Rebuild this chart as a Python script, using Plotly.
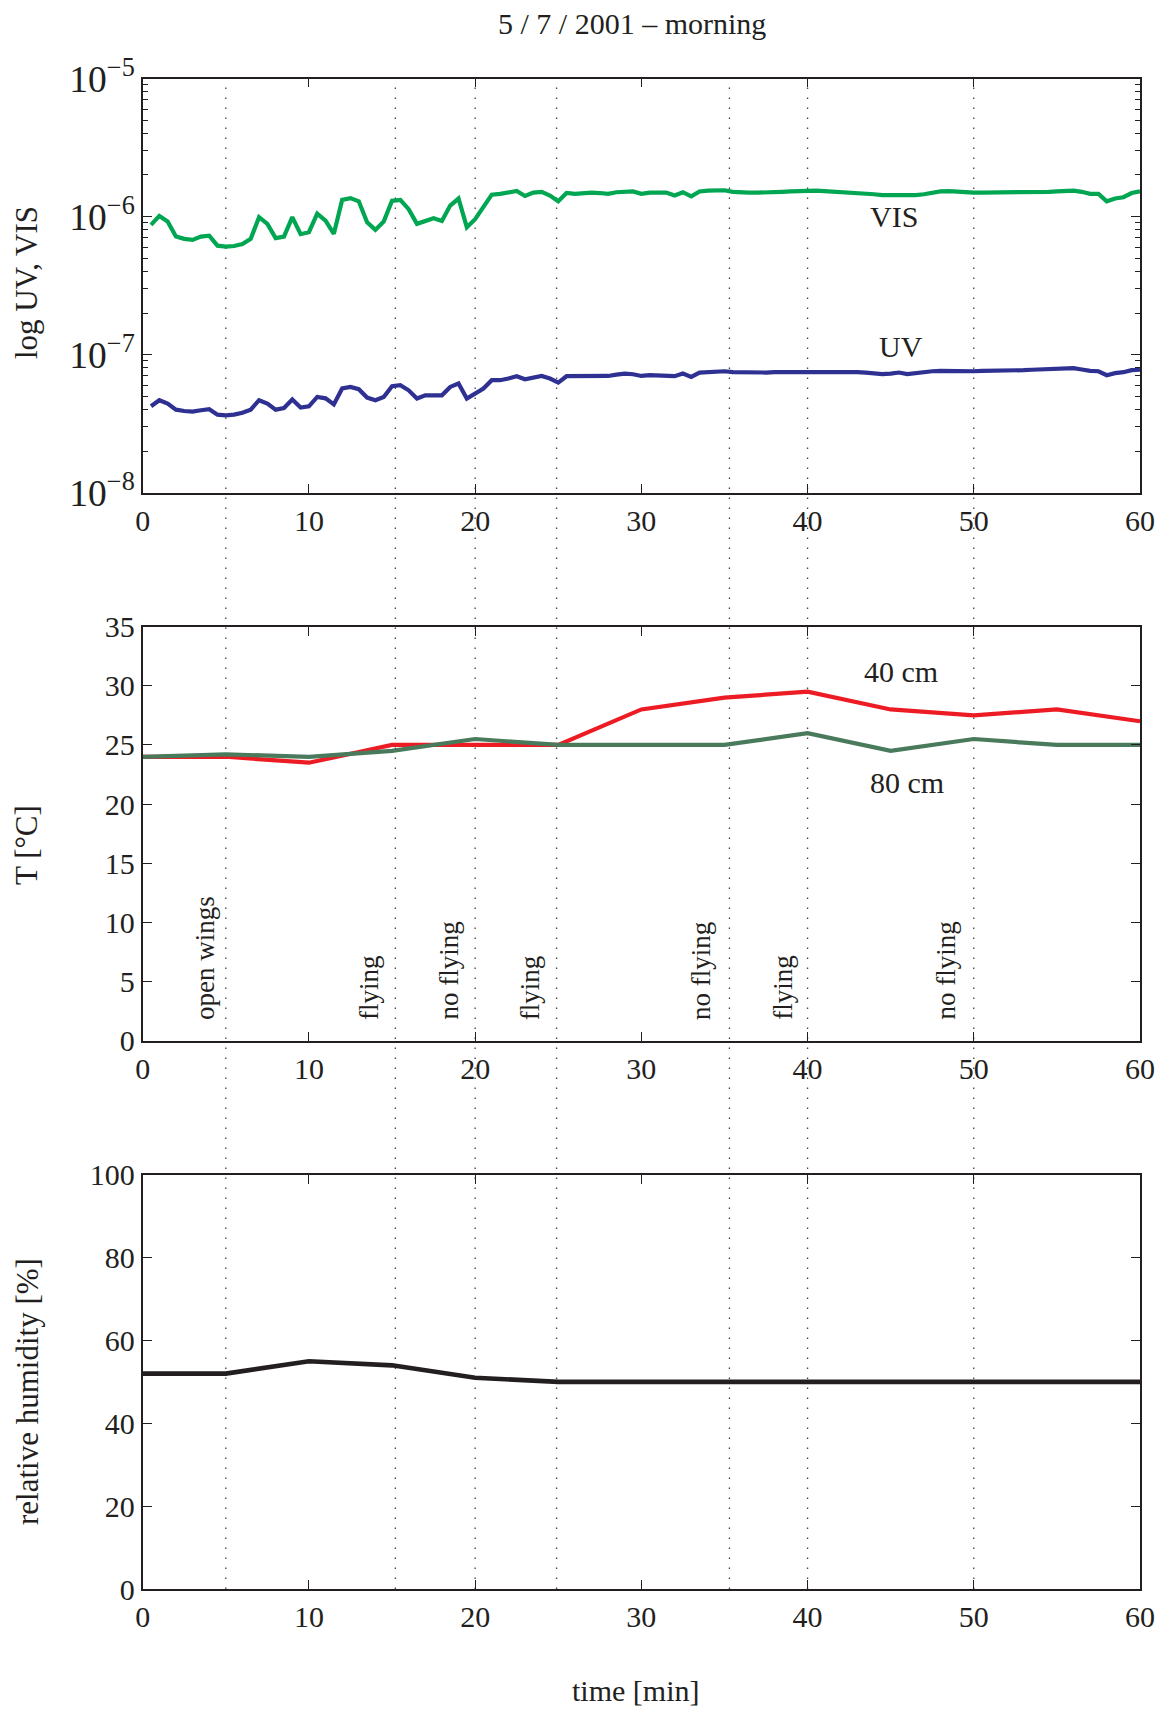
import plotly.graph_objects as go

# ---------------- data ----------------
time_uv = [0.5 * (i + 1) for i in range(120)]  # minutes

vis = [
    8.7e-7, 1.01e-6, 9.2e-7, 7.16e-7, 6.89e-7, 6.78e-7, 7.16e-7, 7.27e-7, 6.15e-7, 6.05e-7,
    6.12e-7, 6.33e-7, 6.89e-7, 9.9e-7, 8.85e-7, 6.97e-7, 7.16e-7, 9.9e-7, 7.45e-7, 7.7e-7,
    1.05e-6, 9.35e-7, 7.49e-7, 1.32e-6, 1.36e-6, 1.29e-6, 9.1e-7, 8.0e-7, 9.2e-7, 1.30e-6,
    1.32e-6,
    1.13e-6, 8.85e-7, 9.35e-7, 9.73e-7, 9.3e-7, 1.20e-6, 1.35e-6, 8.37e-7, 9.57e-7, 1.16e-6,
    1.44e-6, 1.46e-6, 1.50e-6, 1.53e-6, 1.41e-6, 1.49e-6, 1.51e-6, 1.42e-6, 1.29e-6, 1.48e-6,
    1.46e-6, 1.48e-6, 1.49e-6, 1.48e-6, 1.46e-6, 1.50e-6, 1.52e-6, 1.52e-6, 1.46e-6, 1.49e-6,
    1.49e-6, 1.49e-6, 1.42e-6, 1.50e-6, 1.40e-6, 1.52e-6, 1.54e-6, 1.54e-6, 1.55e-6, 1.51e-6,
    1.49e-6, 1.49e-6, 1.49e-6, 1.49e-6, 1.50e-6, 1.51e-6, 1.52e-6, 1.53e-6, 1.54e-6, 1.54e-6,
    1.53e-6, 1.52e-6, 1.51e-6, 1.50e-6, 1.49e-6, 1.48e-6, 1.45e-6, 1.43e-6, 1.43e-6, 1.43e-6,
    1.42e-6, 1.43e-6, 1.45e-6, 1.49e-6, 1.52e-6, 1.53e-6, 1.51e-6, 1.50e-6, 1.49e-6, 1.49e-6,
    1.49e-6, 1.50e-6, 1.50e-6, 1.50e-6, 1.49e-6, 1.50e-6, 1.51e-6, 1.51e-6, 1.52e-6, 1.53e-6,
    1.54e-6, 1.51e-6, 1.46e-6, 1.46e-6, 1.29e-6, 1.35e-6, 1.38e-6, 1.48e-6, 1.52e-6,
]

uv = [
    4.22e-8, 4.67e-8, 4.41e-8, 3.99e-8, 3.90e-8, 3.86e-8, 3.95e-8, 4.02e-8, 3.67e-8, 3.63e-8,
    3.67e-8, 3.79e-8, 3.99e-8, 4.67e-8, 4.41e-8, 3.99e-8, 4.10e-8, 4.72e-8, 4.13e-8, 4.22e-8,
    4.93e-8, 4.82e-8, 4.35e-8, 5.68e-8, 5.83e-8, 5.61e-8, 4.88e-8, 4.67e-8, 4.93e-8, 5.90e-8,
    6.00e-8,
    5.51e-8, 4.80e-8, 5.07e-8, 5.07e-8, 5.07e-8, 5.83e-8, 6.17e-8, 4.80e-8, 5.21e-8, 5.68e-8,
    6.52e-8, 6.52e-8, 6.70e-8, 6.97e-8, 6.62e-8, 6.81e-8, 7.00e-8, 6.70e-8, 6.27e-8, 6.97e-8,
    6.97e-8, 7.00e-8, 7.00e-8, 7.00e-8, 7.00e-8, 7.16e-8, 7.28e-8, 7.20e-8, 7.00e-8, 7.10e-8,
    7.09e-8, 7.05e-8, 6.97e-8, 7.28e-8, 6.89e-8, 7.41e-8, 7.48e-8, 7.52e-8, 7.57e-8, 7.45e-8,
    7.41e-8, 7.41e-8, 7.41e-8, 7.41e-8, 7.45e-8, 7.45e-8, 7.48e-8, 7.52e-8, 7.57e-8, 7.57e-8,
    7.52e-8, 7.52e-8, 7.52e-8, 7.48e-8, 7.45e-8, 7.41e-8, 7.33e-8, 7.21e-8, 7.28e-8, 7.41e-8,
    7.21e-8, 7.37e-8, 7.48e-8, 7.57e-8, 7.61e-8, 7.57e-8, 7.57e-8, 7.57e-8, 7.57e-8, 7.61e-8,
    7.61e-8, 7.66e-8, 7.71e-8, 7.71e-8, 7.71e-8, 7.76e-8, 7.80e-8, 7.88e-8, 7.92e-8, 7.97e-8,
    7.97e-8, 7.80e-8, 7.61e-8, 7.57e-8, 7.09e-8, 7.33e-8, 7.45e-8, 7.71e-8, 7.76e-8,
]

time_t = [0, 5, 10, 15, 20, 25, 30, 35, 40, 45, 50, 55, 60]
temp_40cm = [24, 24, 23.5, 25, 25, 25, 28, 29, 29.5, 28, 27.5, 28, 27]
temp_80cm = [24, 24.2, 24, 24.5, 25.5, 25, 25, 25, 26, 24.5, 25.5, 25, 25]

time_rh = [0, 5, 10, 15, 20, 25, 30, 35, 40, 45, 50, 55, 60]
humidity = [52, 52, 55, 54, 51, 50, 50, 50, 50, 50, 50, 50, 50]

event_times = [5, 15.2, 20, 24.9, 35.3, 40, 50]
behaviour_labels = ["open wings", "flying", "no flying", "flying", "no flying", "flying", "no flying"]
behaviour_x = [3.75, 13.65, 18.4, 23.3, 33.6, 38.55, 48.3]

x_ticks = [0, 10, 20, 30, 40, 50, 60]

# ---------------- style / layout geometry ----------------
OFF = 8  # page body margin
W, H = 1165 - OFF, 1709 - OFF
ML, MR, MT, MB = 62, 12, 62, 62
PW, PH = W - ML - MR, H - MT - MB
INK = "#231f20"
FONT = "Liberation Serif"


def fx(px):  # px = screen x
    return (px - OFF - ML) / PW


def fy(py):  # py = screen y
    return (H - MB - (py - OFF)) / PH


XDOM = [fx(142.7), fx(1140.0)]
D1 = [fy(492.6), fy(78.5)]
D2 = [fy(1040.8), fy(626.6)]
D3 = [fy(1589.0), fy(1174.8)]

fig = go.Figure()

fig.add_trace(go.Scatter(x=time_uv, y=vis, mode="lines", line=dict(color="#00a651", width=4.2),
                         xaxis="x", yaxis="y", showlegend=False))
fig.add_trace(go.Scatter(x=time_uv, y=uv, mode="lines", line=dict(color="#2e3192", width=4.2),
                         xaxis="x", yaxis="y", showlegend=False))
fig.add_trace(go.Scatter(x=time_t, y=temp_40cm, mode="lines", line=dict(color="#ed1c24", width=4.2),
                         xaxis="x2", yaxis="y2", showlegend=False))
fig.add_trace(go.Scatter(x=time_t, y=temp_80cm, mode="lines", line=dict(color="#4a7a5c", width=4.2),
                         xaxis="x2", yaxis="y2", showlegend=False))
fig.add_trace(go.Scatter(x=time_rh, y=humidity, mode="lines", line=dict(color=INK, width=4.6),
                         xaxis="x3", yaxis="y3", showlegend=False))

tickfont = dict(family=FONT, size=30, color=INK)


def xax(anchor):
    return dict(domain=XDOM, anchor=anchor, range=[0, 60], tickmode="array", tickvals=x_ticks,
                ticks="inside", ticklen=9, tickwidth=1.3, tickcolor=INK,
                showline=True, linecolor=INK, linewidth=1.8, mirror="ticks",
                showgrid=False, zeroline=False, tickfont=tickfont, automargin=False)


def yax(anchor, dom, **kw):
    d = dict(domain=dom, anchor=anchor, ticks="inside", ticklen=9, tickwidth=1.3, tickcolor=INK,
             showline=True, linecolor=INK, linewidth=1.8, mirror="ticks",
             showgrid=False, zeroline=False, tickfont=tickfont, automargin=False)
    d.update(kw)
    return d


fig.update_layout(
    width=W, height=H,
    margin=dict(l=ML, r=MR, t=MT, b=MB, pad=0),
    paper_bgcolor="white", plot_bgcolor="rgba(0,0,0,0)",
    xaxis=xax("y"), xaxis2=xax("y2"), xaxis3=xax("y3"),
    yaxis=yax("x", D1, type="log", range=[-8, -5], dtick=1, exponentformat="power",
              minor=dict(ticks="inside", ticklen=5, dtick="D1", tickcolor=INK, tickwidth=1.1, showgrid=False)),
    yaxis2=yax("x2", D2, range=[0, 35], tick0=0, dtick=5),
    yaxis3=yax("x3", D3, range=[0, 100], tick0=0, dtick=20),
)

# event dotted lines spanning all three panels
for t in event_times:
    fig.add_shape(type="line", xref="x", yref="paper", x0=t, x1=t, y0=D3[0], y1=D1[1],
                  line=dict(color="#444444", width=1.3, dash="1.5px,8.5px"), layer="below")

ann = []
ann.append(dict(text="5 / 7 / 2001 \u2013 morning", x=fx(632), y=fy(24), xref="paper", yref="paper",
                xanchor="center", yanchor="middle", borderpad=0,
                showarrow=False, font=dict(family=FONT, size=30, color=INK)))
ann.append(dict(text="time [min]", x=fx(635), y=fy(1690), xref="paper", yref="paper",
                xanchor="center", yanchor="middle", borderpad=0,
                showarrow=False, font=dict(family=FONT, size=30, color=INK)))
for txt, ymid in [("log UV, VIS", 283), ("T [\u00b0C]", 845), ("relative humidity [%]", 1392)]:
    ann.append(dict(text=txt, x=fx(27), y=fy(ymid), xref="paper", yref="paper", textangle=-90,
                    xanchor="center", yanchor="middle",
                    showarrow=False, font=dict(family=FONT, size=31, color=INK)))
ann.append(dict(text="VIS", x=45.2, y=-6.0, xref="x", yref="y", showarrow=False,
                xanchor="center", yanchor="middle", font=dict(family=FONT, size=30, color=INK)))
ann.append(dict(text="UV", x=45.6, y=-6.94, xref="x", yref="y", showarrow=False,
                xanchor="center", yanchor="middle", font=dict(family=FONT, size=30, color=INK)))
ann.append(dict(text="40 cm", x=45.6, y=31.2, xref="x2", yref="y2", showarrow=False,
                xanchor="center", yanchor="middle", font=dict(family=FONT, size=30, color=INK)))
ann.append(dict(text="80 cm", x=46.0, y=21.8, xref="x2", yref="y2", showarrow=False,
                xanchor="center", yanchor="middle", font=dict(family=FONT, size=30, color=INK)))
for txt, bx in zip(behaviour_labels, behaviour_x):
    ann.append(dict(text=txt, x=bx, y=1.6, xref="x2", yref="y2", textangle=-90,
                    xanchor="center", yanchor="bottom",
                    showarrow=False, font=dict(family=FONT, size=27, color=INK)))
fig.update_layout(annotations=ann)

fig.write_html("out.html")
